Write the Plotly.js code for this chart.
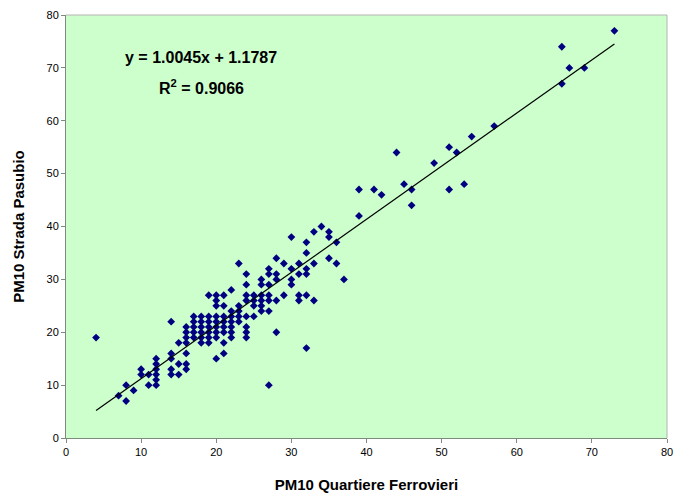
<!DOCTYPE html>
<html>
<head>
<meta charset="utf-8">
<script src="https://cdn.plot.ly/plotly-3.0.1.min.js"></script>
<style>html,body{margin:0;padding:0;background:#fff;}#chart{width:678px;height:497px;}</style>
</head>
<body>
<div id="chart"></div>
<script>
// PM10 Quartiere Ferrovieri (x) vs PM10 Strada Pasubio (y)
const quartiereFerrovieri = [
  4,
  7,
  8, 8,
  9,
  10, 10,
  11, 11,
  12, 12, 12, 12, 12, 12,
  14, 14, 14, 14, 14,
  15, 15, 15,
  16, 16, 16, 16, 16, 16, 16,
  17, 17, 17, 17, 17,
  18, 18, 18, 18, 18, 18,
  19, 19, 19, 19, 19, 19, 19,
  20, 20, 20, 20, 20, 20, 20, 20, 20,
  21, 21, 21, 21, 21, 21, 21, 21,
  22, 22, 22, 22, 22, 22, 22,
  23, 23, 23, 23, 23,
  24, 24, 24, 24, 24, 24, 24, 24,
  25, 25, 25, 25,
  26, 26, 26, 26, 26, 26,
  27, 27, 27, 27, 27, 27, 27,
  28, 28, 28, 28, 28,
  29, 29,
  30, 30, 30, 30,
  31, 31, 31, 31,
  32, 32, 32, 32, 32, 32,
  33, 33, 33,
  34,
  35, 35, 35,
  36, 36,
  37,
  39, 39,
  41,
  42,
  44,
  45,
  46, 46,
  49,
  51, 51,
  52,
  53,
  54,
  57,
  66, 66,
  67,
  69,
  73
];
const stradaPasubio = [
  19,
  8,
  10, 7,
  9,
  13, 12,
  12, 10,
  15, 14, 13, 12, 11, 10,
  22, 16, 15, 13, 12,
  18, 14, 12,
  21, 20, 19, 18, 16, 14, 13,
  23, 22, 21, 20, 19,
  23, 22, 21, 20, 19, 18,
  27, 23, 22, 21, 20, 19, 18,
  27, 26, 25, 23, 22, 21, 20, 19, 15,
  27, 25, 23, 22, 21, 20, 18, 16,
  28, 24, 23, 22, 21, 20, 19,
  33, 25, 24, 23, 22,
  31, 29, 27, 26, 23, 21, 20, 19,
  27, 26, 25, 23,
  30, 29, 27, 26, 25, 24,
  32, 31, 29, 27, 26, 24, 10,
  34, 31, 30, 26, 20,
  33, 27,
  38, 32, 30, 29,
  33, 31, 27, 26,
  37, 35, 32, 31, 27, 17,
  39, 33, 26,
  40,
  39, 38, 34,
  37, 33,
  30,
  47, 42,
  47,
  46,
  54,
  48,
  47, 44,
  52,
  55, 47,
  54,
  48,
  57,
  59,
  74, 67,
  70,
  70,
  77
];
// Excel linear trendline shown on the chart
const trendSlope = 1.0045;
const trendIntercept = 1.1787;
const rSquared = 0.9066;

const xTicks = [0, 10, 20, 30, 40, 50, 60, 70, 80];
const yTicks = [0, 10, 20, 30, 40, 50, 60, 70, 80];

const xMin = Math.min(...quartiereFerrovieri);
const xMax = Math.max(...quartiereFerrovieri);
const trendX = [xMin, xMax];
const trendY = trendX.map(v => trendSlope * v + trendIntercept);

const FONT = 'Liberation Sans, Arial, sans-serif';

const traces = [
  {
    type: 'scatter', mode: 'markers',
    x: quartiereFerrovieri, y: stradaPasubio,
    marker: {symbol: 'diamond', size: 6, color: '#000080'},
    hoverinfo: 'x+y', showlegend: false
  },
  {
    type: 'scatter', mode: 'lines',
    x: trendX, y: trendY,
    line: {color: '#000000', width: 1.2},
    hoverinfo: 'skip', showlegend: false
  }
];

const layout = {
  width: 678, height: 497,
  margin: {l: 66, r: 11, t: 15, b: 59},
  paper_bgcolor: '#ffffff',
  plot_bgcolor: '#ccffcc',
  font: {family: FONT, size: 11, color: '#000000'},
  xaxis: {
    range: [0, 80], tickvals: xTicks, ticktext: xTicks.map(String),
    showgrid: false, zeroline: false,
    showline: true, linecolor: '#7f8a7f', linewidth: 1,
    ticks: 'outside', ticklen: 4, tickcolor: '#7f8a7f',
    tickfont: {family: FONT, size: 11, color: '#000'},
    title: {text: 'PM10 Quartiere Ferrovieri', font: {family: FONT, size: 15, color: '#000', weight: 'bold'}, standoff: 22}
  },
  yaxis: {
    range: [0, 80], tickvals: yTicks, ticktext: yTicks.map(String),
    showgrid: false, zeroline: false,
    showline: true, linecolor: '#7f8a7f', linewidth: 1,
    ticks: 'outside', ticklen: 4, tickcolor: '#7f8a7f',
    tickfont: {family: FONT, size: 11, color: '#000'},
    title: {text: 'PM10 Strada Pasubio', font: {family: FONT, size: 15, color: '#000', weight: 'bold'}, standoff: 18}
  },
  shapes: [
    {type: 'line', xref: 'paper', yref: 'paper', x0: 0, x1: 1, y0: 1, y1: 1, line: {color: '#b4b4b4', width: 1}},
    {type: 'line', xref: 'paper', yref: 'paper', x0: 1, x1: 1, y0: 0, y1: 1, line: {color: '#b4b4b4', width: 1}}
  ],
  annotations: [
    {xref: 'paper', yref: 'paper', x: 0.225, y: 0.9, xanchor: 'center', yanchor: 'middle', showarrow: false,
     text: 'y = ' + trendSlope.toFixed(4) + 'x + ' + trendIntercept.toFixed(4),
     font: {family: FONT, size: 16, color: '#000', weight: 'bold'}},
    {xref: 'paper', yref: 'paper', x: 0.225, y: 0.83, xanchor: 'center', yanchor: 'middle', showarrow: false,
     text: 'R<sup>2</sup> = ' + rSquared.toFixed(4),
     font: {family: FONT, size: 16, color: '#000', weight: 'bold'}}
  ]
};

Plotly.newPlot('chart', traces, layout, {displayModeBar: false, staticPlot: true});
</script>
</body>
</html>
